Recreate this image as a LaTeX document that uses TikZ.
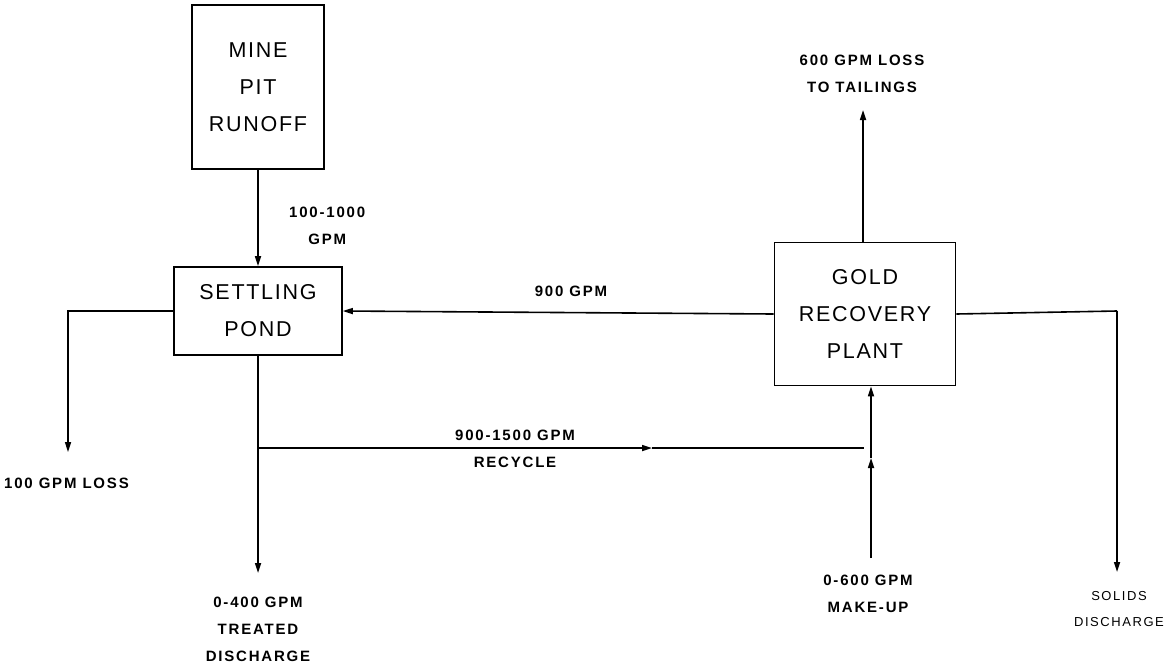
\documentclass[tikz,border=0pt]{standalone}
\usepackage{fontspec}
\setmainfont{Liberation Sans}[LetterSpace=8]
\usetikzlibrary{arrows.meta}
\tikzset{
  unit/.style={draw, line width=1.6pt, inner sep=0pt, align=center,
    font=\fontsize{21.5}{37}\selectfont},
  flow/.style={line width=1.6pt},
  tip/.style={flow, -{Triangle[length=10pt,width=6pt]}},
  lbl/.style={inner sep=0pt, align=center, font=\fontsize{15}{27}\selectfont\bfseries\addfontfeatures{LetterSpace=12}},
  lightlbl/.style={inner sep=0pt, align=center, font=\fontsize{13}{26}\selectfont\addfontfeatures{LetterSpace=12}}
}
\begin{document}
\begin{tikzpicture}[x=1pt,y=-1pt]
\useasboundingbox (0,0) rectangle (1167,670);
% units
\node[unit, minimum width=132pt, minimum height=164pt] (mine) at (258,87) {MINE\\PIT\\RUNOFF};
\node[unit, minimum width=168pt, minimum height=88pt] (pond) at (258,311) {SETTLING\\POND};
\node[unit, minimum width=181pt, minimum height=143pt] (gold) at (865,314) {GOLD\\RECOVERY\\PLANT};
% coordinates
\coordinate (lossend) at (68,452);
\coordinate (treatend) at (258,573);
\coordinate (split) at (258,448);
\coordinate (recmid) at (652,448);
\coordinate (recend) at (864,448);
\coordinate (mkstart) at (871,558);
\coordinate (mkmid) at (871,458);
\coordinate (tailend) at (863,110);
\coordinate (solcorner) at (1117,311);
\coordinate (solend) at (1117,572);
% connectors
\draw[tip] (mine.south) -- (pond.north);
\draw[tip] (pond.west) -| (lossend);
\draw[tip] (pond.south) -- (treatend);
\draw[tip] (split) -- (recmid);
\draw[flow] (recmid) -- (recend);
\draw[tip] (gold.west) -- (pond.east);
\draw[tip] (gold.north -| tailend) -- (tailend);
\draw[flow] (gold.east) -- (solcorner);
\draw[tip] (solcorner) -- (solend);
\draw[tip] (mkstart) -- (mkmid);
\draw[tip] (mkmid) -- (gold.south -| mkmid);
% labels
\node[lbl, anchor=west] (l1) at (289,226) {100-1000\\GPM};
\node[lbl] (l2) at (571,291) {900 GPM};
\node[lbl] (l3) at (862,74) {600 GPM LOSS\\TO TAILINGS};
\node[lbl, anchor=west] (l4) at (4,483) {100 GPM LOSS};
\node[lbl] (l5) at (515,449) {900-1500 GPM\\RECYCLE};
\node[lbl] (l6) at (258,629) {0-400 GPM\\TREATED\\DISCHARGE};
\node[lbl] (l7) at (868,594) {0-600 GPM\\MAKE-UP};
\node[lightlbl] (l8) at (1119,609) {SOLIDS\\DISCHARGE};
\end{tikzpicture}
\end{document}
